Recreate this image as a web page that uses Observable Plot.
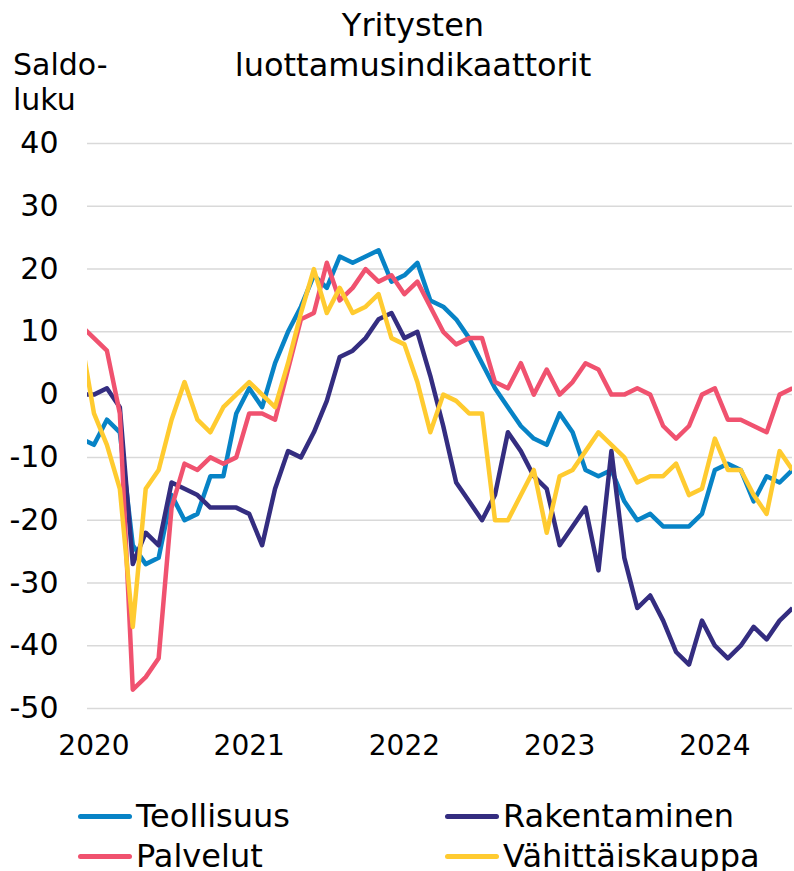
<!DOCTYPE html>
<html><head><meta charset="utf-8">
<script src="https://cdn.jsdelivr.net/npm/d3@7"></script>
<script src="https://cdn.jsdelivr.net/npm/@observablehq/plot@0.6"></script>
<style>
body{margin:0;background:#fff;}
#wrap{position:relative;width:794px;height:871px;overflow:hidden;font-family:"DejaVu Sans",sans-serif;color:#000;background:#fff;}
#wrap svg{position:absolute;left:0;top:0;}
.t{position:absolute;white-space:nowrap;}
.sw{position:absolute;height:5px;border-radius:3px;}
</style></head><body><div id="wrap"></div>
<script>
// Month index: -1 = Dec 2019, 0 = Jan 2020 ... 54 = Jul 2024
const monthIndex = d3.range(-1, 55);
const yearLabels = ["2020", "2021", "2022", "2023", "2024"];
const yearTickIndex = [0, 12, 24, 36, 48];
const yTicks = [40, 30, 20, 10, 0, -10, -20, -30, -40, -50];

const seriesNames = ["Teollisuus", "Rakentaminen", "Palvelut", "Vähittäiskauppa"];
const seriesColors = ["#0783c6", "#342d80", "#f0526f", "#ffcb30"];

const teollisuus = [-7, -8, -4, -6, -24, -27, -26, -16, -20, -19, -13, -13, -3, 1, -2, 5, 10, 14, 19, 17, 22, 21, 22, 23, 18, 19, 21, 15, 14, 12, 9, 5, 1, -2, -5, -7, -8, -3, -6, -12, -13, -12, -17, -20, -19, -21, -21, -21, -19, -12, -11, -12, -17, -13, -14, -12];
const rakentaminen = [0, 0, 1, -2, -27, -22, -24, -14, -15, -16, -18, -18, -18, -19, -24, -15, -9, -10, -6, -1, 6, 7, 9, 12, 13, 9, 10, 3, -5, -14, -17, -20, -16, -6, -9, -13, -15, -24, -21, -18, -28, -9, -26, -34, -32, -36, -41, -43, -36, -40, -42, -40, -37, -39, -36, -34];
const palvelut = [11, 9, 7, -3, -47, -45, -42, -18, -11, -12, -10, -11, -10, -3, -3, -4, 4, 12, 13, 21, 15, 17, 20, 18, 19, 16, 18, 14, 10, 8, 9, 9, 2, 1, 5, 0, 4, 0, 2, 5, 4, 0, 0, 1, 0, -5, -7, -5, 0, 1, -4, -4, -5, -6, 0, 1];
const vahittaiskauppa = [9, -3, -8, -15, -37, -15, -12, -4, 2, -4, -6, -2, 0, 2, 0, -2, 5, 13, 20, 13, 17, 13, 14, 16, 9, 8, 2, -6, 0, -1, -3, -3, -20, -20, -16, -12, -22, -13, -12, -9, -6, -8, -10, -14, -13, -13, -11, -16, -15, -7, -12, -12, -16, -19, -9, -12];

const seriesValues = [teollisuus, rakentaminen, palvelut, vahittaiskauppa];

const lineMarks = seriesValues.map((vals, s) =>
  Plot.line(monthIndex, {
    x: d => d,
    y: (d, i) => vals[i],
    stroke: seriesColors[s],
    strokeWidth: 4.5,
    strokeLinejoin: "round",
    strokeLinecap: "butt",
    clip: true
  })
);

const chart = Plot.plot({
  width: 794,
  height: 871,
  marginLeft: 87,
  marginRight: 2,
  marginTop: 143,
  marginBottom: 163,
  style: {fontFamily: "DejaVu Sans", fontSize: "30px", background: "transparent", color: "#000"},
  x: {domain: [-0.5, 54], axis: null},
  y: {domain: [-50, 40], axis: null},
  marks: [
    Plot.gridY(yTicks, {stroke: "#d9d9d9", strokeOpacity: 1, strokeWidth: 1.5}),
    Plot.axisY(yTicks, {tickSize: 0, tickPadding: 29, tickFormat: d => String(d), fontSize: 30, fill: "#000"}),
    Plot.axisX(yearTickIndex, {tickSize: 0, tickPadding: 27, tickFormat: d => yearLabels[yearTickIndex.indexOf(d)], fontSize: 28, fill: "#000"}),
    ...lineMarks
  ]
});

const wrap = document.getElementById("wrap");
wrap.appendChild(chart);

function addText(txt, left, top, size, extra) {
  const el = document.createElement("div");
  el.className = "t";
  el.textContent = txt;
  el.style.left = left + "px";
  el.style.top = top + "px";
  el.style.fontSize = size + "px";
  el.style.lineHeight = "40px";
  if (extra) Object.assign(el.style, extra);
  wrap.appendChild(el);
  return el;
}

// Title
addText("Yritysten", 113, 5, 32, {width: "600px", textAlign: "center"});
addText("luottamusindikaattorit", 113, 45, 32, {width: "600px", textAlign: "center"});
// Y axis label
addText("Saldo-", 13, 45, 30);
addText("luku", 13, 80, 30);

// Legend
const legendPos = [[78, 816], [445, 816], [78, 856], [445, 856]];
seriesNames.forEach((name, i) => {
  const [lx, ly] = legendPos[i];
  const sw = document.createElement("div");
  sw.className = "sw";
  sw.style.left = lx + "px";
  sw.style.top = (ly - 2.5) + "px";
  sw.style.width = "54px";
  sw.style.background = seriesColors[i];
  wrap.appendChild(sw);
  addText(name, lx + 58, ly - 20, 32);
});
</script>
</body></html>
